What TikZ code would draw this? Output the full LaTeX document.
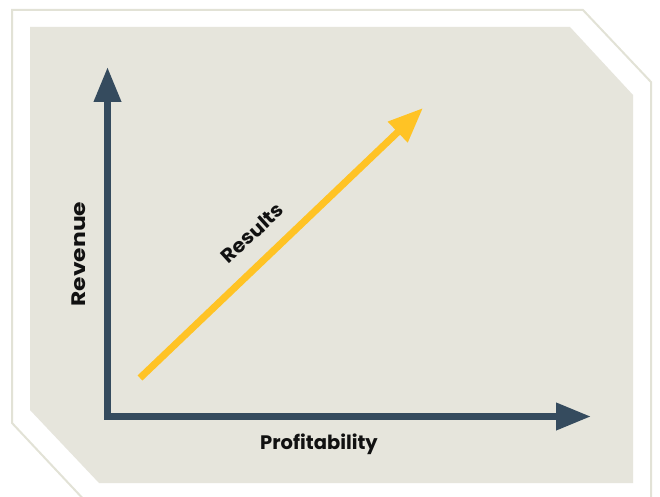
\documentclass[tikz,border=0pt]{standalone}
\usepackage{fontspec}
\setmainfont{Poppins}
\usetikzlibrary{arrows.meta}
\definecolor{panel}{HTML}{E6E5DC}
\definecolor{frame}{HTML}{E2E2D6}
\definecolor{axis}{HTML}{354B5E}
\definecolor{res}{HTML}{FFC325}
\definecolor{ink}{HTML}{111111}
\tikzset{
  axisline/.style={draw=axis, line width=7pt, line join=miter,
    {Triangle[width=26pt,length=35pt]}-{Triangle[width=26pt,length=35pt]}},
  resline/.style={draw=res, line width=7pt,
    -{Triangle[width=27pt,length=35pt]}},
  lbl/.style={text=ink, font=\bfseries\fontsize{19.5}{22}\selectfont, inner sep=0pt}
}
\begin{document}
\begin{tikzpicture}[x=1pt,y=-1pt]
\useasboundingbox (0,0) rectangle (660,497);
\clip (0,0) rectangle (660,497);
% outer frame
\draw[frame, line width=2pt, fill=white] (12,10) -- (583,10) -- (651,82) -- (651,520) -- (103,520) -- (12,423) -- cycle;
% inner panel
\fill[panel] (30,27) -- (570,27) -- (633,95) -- (633,483) -- (99,483) -- (30,410) -- cycle;
% axes
\coordinate (ytip) at (107.5,67);
\coordinate (origin) at (107.5,416.5);
\coordinate (xtip) at (591,416.5);
\draw[axisline] (ytip) -- (origin) -- (xtip);
% results arrow
\coordinate (rstart) at (140,378);
\coordinate (rtip) at (423,108);
\draw[resline] (rstart) -- (rtip);
% labels
\node[lbl, rotate=90] (rev) at (79,254) {\scalebox{1.2}[1]{Revenue}};
\node[lbl] (prof) at (319,444) {Profitability};
\node[lbl, rotate=42.5] (resl) at (252,233) {\scalebox{1.05}[1]{Results}};
\end{tikzpicture}
\end{document}
